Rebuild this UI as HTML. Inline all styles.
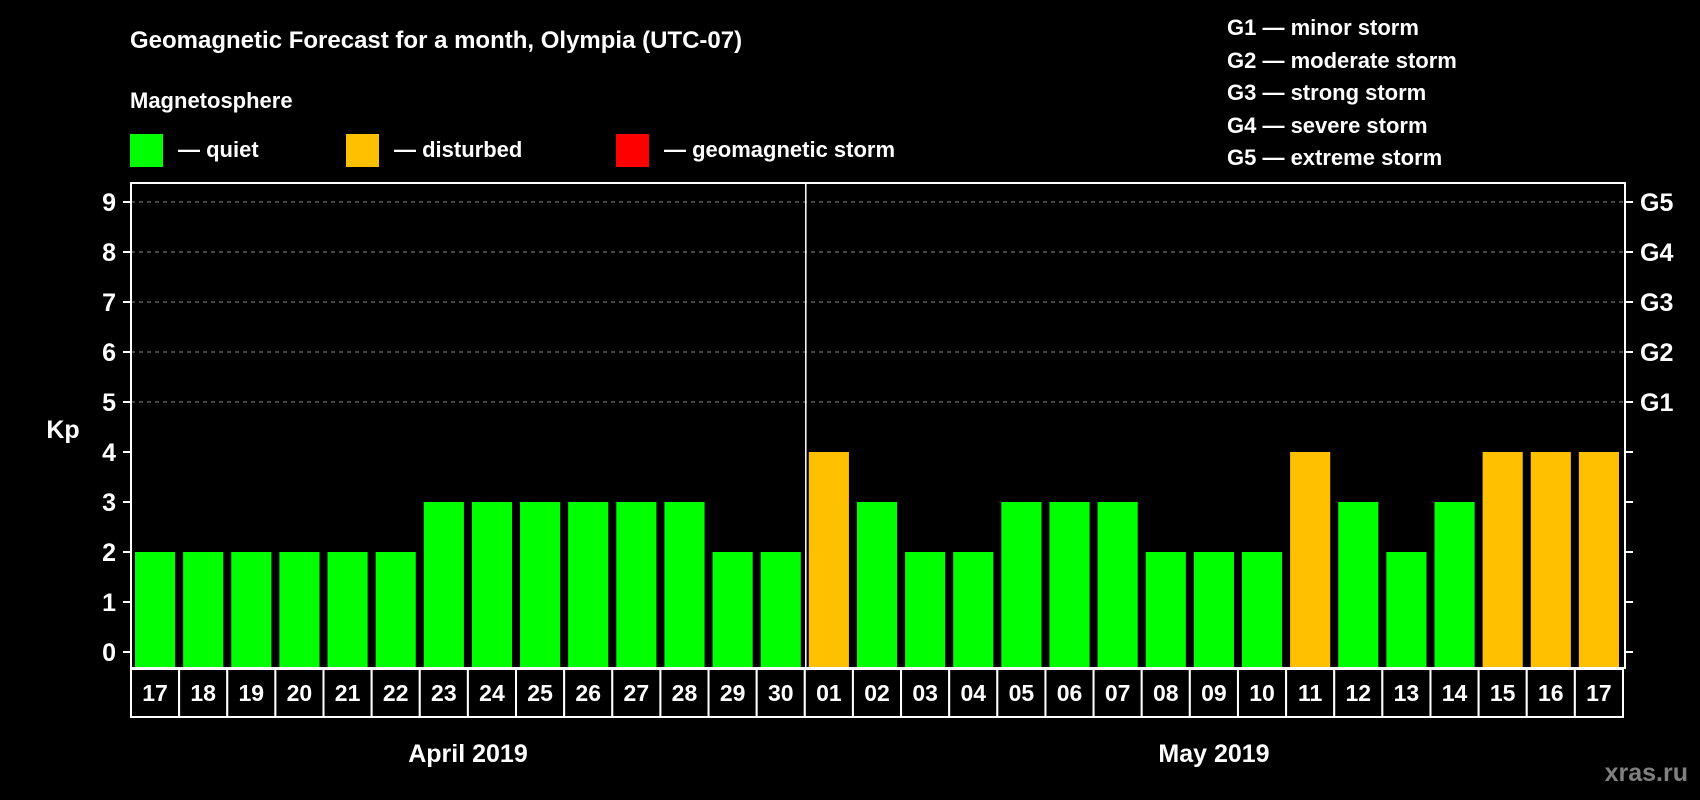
<!DOCTYPE html>
<html><head><meta charset="utf-8"><style>
html,body{margin:0;padding:0;background:#000;}
svg{display:block;font-family:"Liberation Sans",Arial,sans-serif;font-weight:bold;}
</style></head><body>
<svg id="chart" width="1700" height="800" viewBox="0 0 1700 800">
<rect width="1700" height="800" fill="#000"/>
<text x="130" y="48" fill="#fff" font-size="24">Geomagnetic Forecast for a month, Olympia (UTC-07)</text>
<text x="130" y="108" fill="#fff" font-size="22">Magnetosphere</text>
<g><rect x="130" y="134" width="33" height="33" fill="#00ff00"/><text x="178" y="157" fill="#fff" font-size="22">— quiet</text></g>
<g><rect x="346" y="134" width="33" height="33" fill="#ffc000"/><text x="394" y="157" fill="#fff" font-size="22">— disturbed</text></g>
<g><rect x="616" y="134" width="33" height="33" fill="#ff0000"/><text x="664" y="157" fill="#fff" font-size="22">— geomagnetic storm</text></g>
<g fill="#fff" font-size="22">
<text x="1227" y="35">G1 — minor storm</text>
<text x="1227" y="68">G2 — moderate storm</text>
<text x="1227" y="100">G3 — strong storm</text>
<text x="1227" y="133">G4 — severe storm</text>
<text x="1227" y="165">G5 — extreme storm</text>
</g>
<text x="63" y="438" fill="#fff" font-size="25" text-anchor="middle">Kp</text>
<g id="plot"></g>
<text x="468" y="762" fill="#fff" font-size="25" text-anchor="middle">April 2019</text>
<text x="1214" y="762" fill="#fff" font-size="25" text-anchor="middle">May 2019</text>
<text x="1688" y="781" fill="#808080" font-size="25" text-anchor="end">xras.ru</text>
</svg>
<script>
const days = ["17","18","19","20","21","22","23","24","25","26","27","28","29","30","01","02","03","04","05","06","07","08","09","10","11","12","13","14","15","16","17"];
const kpValues = [2,2,2,2,2,2,3,3,3,3,3,3,2,2,4,3,2,2,3,3,3,2,2,2,4,3,2,3,4,4,4];
const yTicks = [0,1,2,3,4,5,6,7,8,9];
const gLabels = ["","","","","","G1","G2","G3","G4","G5"];

const NS="http://www.w3.org/2000/svg";
const g=document.getElementById('plot');
const L=131,R=1625,T=183,B=668;
const cw=(R-L-2)/days.length;
const y=v=>652-v*50;
const x=i=>L+i*cw;
function mk(t,a){const e=document.createElementNS(NS,t);for(const k in a)e.setAttribute(k,a[k]);g.appendChild(e);return e;}
yTicks.forEach((v,i)=>{
  if(v>=5){const l=mk('line',{x1:L,x2:R,y1:y(v),y2:y(v),stroke:'#888','stroke-dasharray':'4,4','stroke-width':1});
    
    }
  const t1=mk('line',{x1:L-8,x2:L,y1:y(v),y2:y(v),stroke:'#fff','stroke-width':2});
  
  
  const t2=mk('line',{x1:R,x2:R+8,y1:y(v),y2:y(v),stroke:'#fff','stroke-width':2});
  
  
  const tx=mk('text',{x:L-15,y:y(v)+9,fill:'#fff','font-size':25,'text-anchor':'end'});tx.textContent=v;
  
  
  if(gLabels[i]){const gt=mk('text',{x:R+15,y:y(v)+9,fill:'#fff','font-size':25});gt.textContent=gLabels[i];
    
    }
});
kpValues.forEach((v,i)=>{
  const col=v>=5?'#ff0000':(v>=4?'#ffc000':'#00ff00');
  const b=mk('rect',{x:x(i)+4,y:y(v),width:cw-8,height:B-y(v),fill:col});
  
  
});
const sep=mk('line',{x1:x(14)+1,x2:x(14)+1,y1:T,y2:B,stroke:'#fff','stroke-width':1.5});


const fr=mk('rect',{x:L,y:T,width:R-L,height:B-T,fill:'none',stroke:'#fff','stroke-width':2});


days.forEach((d,i)=>{
  const c=mk('rect',{x:x(i),y:669,width:cw,height:48,fill:'#000',stroke:'#fff','stroke-width':2});
  
  
  const t=mk('text',{x:x(i)+cw/2,y:701,fill:'#fff','font-size':23,'text-anchor':'middle'});t.textContent=d;
  
  
});
</script>
</body></html>
